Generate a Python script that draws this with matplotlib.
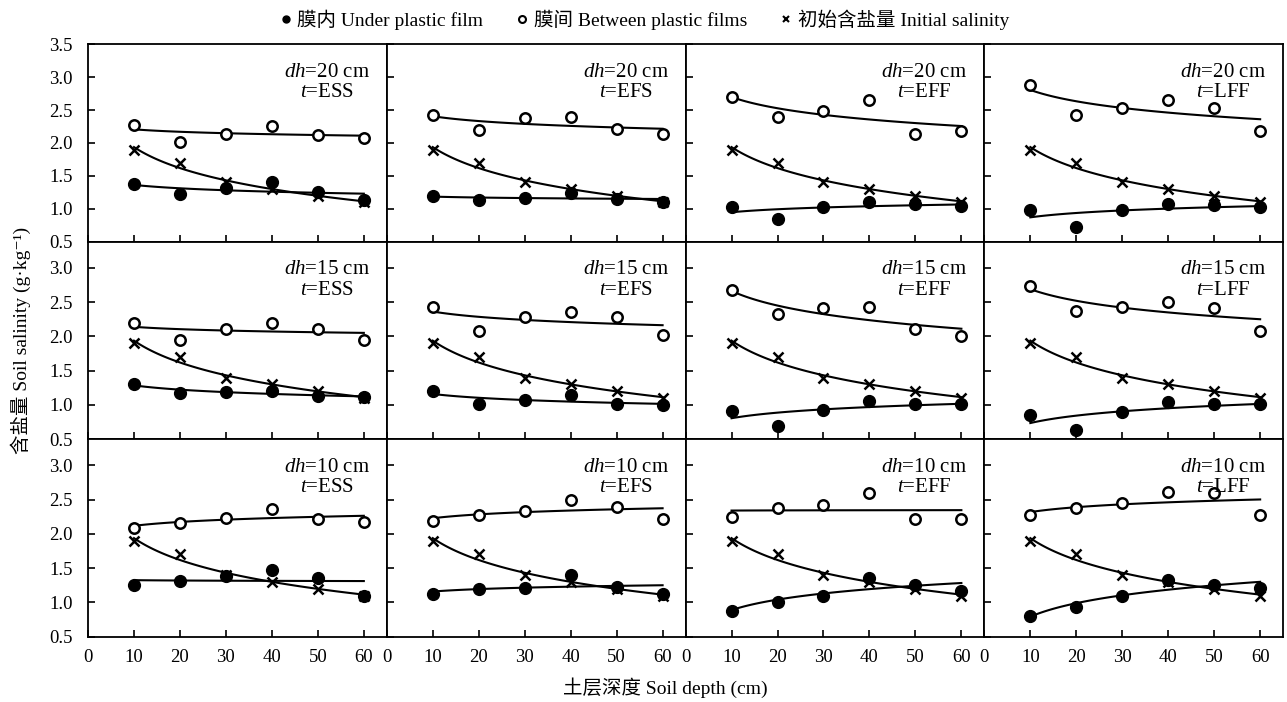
import numpy as np
import matplotlib
matplotlib.use("Agg")
import matplotlib.pyplot as plt
from matplotlib.lines import Line2D

plt.rcParams['font.family'] = ['Liberation Serif', 'Noto Sans CJK SC', 'DejaVu Serif']
plt.rcParams['mathtext.fontset'] = 'custom'
plt.rcParams['mathtext.rm'] = 'Liberation Serif'
plt.rcParams['mathtext.it'] = 'Liberation Serif:italic'

depth = [10, 20, 30, 40, 50, 60]
periods = ["ESS", "EFS", "EFF", "LFF"]
dh_levels = [20, 15, 10]
initial = [1.9, 1.7, 1.4, 1.3, 1.2, 1.1]

# 膜内 (under film), one list per period: ESS, EFS, EFF, LFF
under_dh20 = [[1.37, 1.23, 1.31, 1.40, 1.25, 1.13],
              [1.19, 1.13, 1.17, 1.24, 1.15, 1.10],
              [1.02, 0.84, 1.03, 1.11, 1.07, 1.05],
              [0.98, 0.72, 0.98, 1.08, 1.06, 1.03]]
under_dh15 = [[1.30, 1.18, 1.19, 1.21, 1.13, 1.11],
              [1.20, 1.01, 1.07, 1.14, 1.01, 1.00],
              [0.91, 0.69, 0.92, 1.06, 1.02, 1.01],
              [0.85, 0.63, 0.89, 1.04, 1.02, 1.01]]
under_dh10 = [[1.26, 1.31, 1.39, 1.48, 1.36, 1.10],
              [1.12, 1.20, 1.21, 1.40, 1.23, 1.13],
              [0.88, 1.01, 1.10, 1.36, 1.26, 1.17],
              [0.80, 0.93, 1.09, 1.33, 1.26, 1.21]]

# 膜间 (between films)
between_dh20 = [[2.28, 2.01, 2.14, 2.26, 2.12, 2.08],
                [2.43, 2.19, 2.38, 2.40, 2.21, 2.13],
                [2.70, 2.40, 2.49, 2.66, 2.14, 2.18],
                [2.88, 2.42, 2.53, 2.66, 2.53, 2.18]]
between_dh15 = [[2.19, 1.95, 2.11, 2.20, 2.11, 1.95],
                [2.43, 2.08, 2.28, 2.35, 2.28, 2.02],
                [2.67, 2.32, 2.41, 2.43, 2.11, 2.01],
                [2.73, 2.37, 2.43, 2.50, 2.41, 2.08]]
between_dh10 = [[2.09, 2.16, 2.23, 2.36, 2.22, 2.18],
                [2.19, 2.27, 2.34, 2.49, 2.39, 2.22],
                [2.25, 2.37, 2.42, 2.59, 2.22, 2.21],
                [2.27, 2.38, 2.45, 2.61, 2.59, 2.28]]

under_all = [under_dh20, under_dh15, under_dh10]
between_all = [between_dh20, between_dh15, between_dh10]


def log_trend(ax, x, y):
    # logarithmic trendline y = a + b*ln(x)
    b, a = np.polyfit(np.log(x), y, 1)
    xs = np.linspace(min(x), max(x), 100)
    ax.plot(xs, a + b * np.log(xs), color='black', lw=1.5, zorder=2)


fig, axes = plt.subplots(3, 4, figsize=(12.87, 7.02), dpi=100)
fig.subplots_adjust(left=0.0684, right=0.997, top=0.937, bottom=0.093,
                    wspace=0, hspace=0)

x = np.array(depth)
for r in range(3):
    for c in range(4):
        ax = axes[r, c]
        u = under_all[r][c]
        b = between_all[r][c]
        log_trend(ax, x, b)
        log_trend(ax, x, initial)
        log_trend(ax, x, u)
        ax.plot(x, b, 'o', mfc='white', mec='black', mew=1.8, ms=7.5, zorder=3)
        ax.plot(x, initial, 'x', color='black', mew=1.8, ms=6.5, zorder=3)
        ax.plot(x, u, 'o', color='black', ms=8.5, zorder=4)

        ax.set_xlim(0, 65)
        ax.set_xticks([0, 10, 20, 30, 40, 50, 60])
        if r == 0:
            ax.set_ylim(0.5, 3.5)
            ax.set_yticks([0.5, 1.0, 1.5, 2.0, 2.5, 3.0, 3.5])
        else:
            ax.set_ylim(0.5, 3.38)
            ax.set_yticks([0.5, 1.0, 1.5, 2.0, 2.5, 3.0])
        ax.tick_params(axis='both', direction='in', length=5, width=1.2,
                       labelsize=13.5, top=False, right=False)
        ax.tick_params(axis='y', pad=11)
        ax.tick_params(axis='x', pad=9)
        if c == 0:
            ax.yaxis.set_major_formatter(matplotlib.ticker.FormatStrFormatter('%.1f'))
        else:
            ax.set_yticklabels([])
        if r < 2:
            ax.set_xticklabels([])
        for s in ax.spines.values():
            s.set_linewidth(1.3)

        ax.text(0.943, 0.905, "$dh$=%d cm\n$t$=%s" % (dh_levels[r], periods[c]),
                transform=ax.transAxes, ha='right', va='top',
                multialignment='center', fontsize=15, linespacing=1.1)

handles = [Line2D([], [], ls='none', marker='o', color='black', ms=5),
           Line2D([], [], ls='none', marker='o', mfc='white', mec='black', mew=1.5, ms=5),
           Line2D([], [], ls='none', marker='x', color='black', mew=1.5, ms=5)]
labels = ["膜内 Under plastic film", "膜间 Between plastic films", "初始含盐量 Initial salinity"]
fig.legend(handles, labels, loc='center', bbox_to_anchor=(0.5, 0.972), ncol=3,
           frameon=False, fontsize=14, handletextpad=0.2, columnspacing=1.6,
           handlelength=0.8)

fig.text(0.016, 0.515, "含盐量 Soil salinity (g·kg⁻¹)", rotation=90,
         ha='center', va='center', fontsize=14)
fig.text(0.517, 0.021, "土层深度 Soil depth (cm)", ha='center', va='center',
         fontsize=14)

fig.savefig("out.png", dpi=100)
